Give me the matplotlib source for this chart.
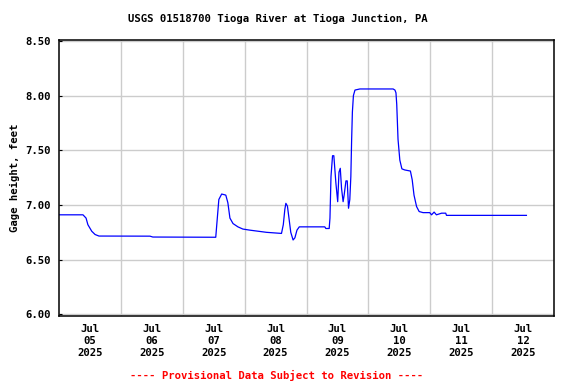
import matplotlib
matplotlib.use("Agg")
import matplotlib.pyplot as plt
import pandas as pd

# Gage height readings, hours after Jul 05 2025 00:00
hours = [0.0, 9.3, 10.5, 11.2, 12.7, 14.0, 15.5, 35.3, 36.4, 60.8,
         61.3, 62.0, 63.1, 64.7, 65.5, 66.3, 67.5, 69.4, 71.3, 74.0,
         80.5, 86.3, 87.0, 87.6, 88.0, 88.6, 89.2, 89.9, 90.8, 91.5,
         92.3, 93.2, 103.1, 103.5, 104.8, 105.1, 105.5, 106.1, 106.6, 107.4,
         108.1, 108.6, 109.1, 109.6, 110.2, 110.6, 111.3, 111.8, 112.3, 112.8,
         113.2, 113.5, 113.8, 114.2, 114.8, 116.7, 129.6, 130.3, 130.7, 131.0,
         131.5, 132.2, 133.0, 134.1, 136.3, 137.0, 137.7, 138.7, 139.7, 141.2,
         143.8, 144.5, 145.5, 146.4, 148.4, 150.0, 150.3, 181.3]
gage_ft = [6.91, 6.91, 6.88, 6.82, 6.76, 6.73, 6.716, 6.715, 6.707, 6.705,
           6.85, 7.05, 7.10, 7.09, 7.02, 6.88, 6.83, 6.80, 6.78, 6.77,
           6.75, 6.74, 6.82, 6.96, 7.015, 6.99, 6.88, 6.75, 6.68, 6.70,
           6.77, 6.80, 6.80, 6.785, 6.785, 6.88, 7.26, 7.45, 7.45, 7.20,
           7.03, 7.30, 7.335, 7.15, 7.03, 7.09, 7.22, 7.22, 6.97, 7.05,
           7.26, 7.59, 7.85, 8.00, 8.05, 8.06, 8.06, 8.05, 8.025, 7.92,
           7.60, 7.41, 7.33, 7.32, 7.31, 7.23, 7.09, 6.985, 6.94, 6.93,
           6.93, 6.91, 6.935, 6.91, 6.925, 6.925, 6.905, 6.905]

day_labels = ["Jul\n05\n2025", "Jul\n06\n2025", "Jul\n07\n2025", "Jul\n08\n2025",
              "Jul\n09\n2025", "Jul\n10\n2025", "Jul\n11\n2025", "Jul\n12\n2025"]
y_ticks = [6.0, 6.5, 7.0, 7.5, 8.0, 8.5]

start = pd.Timestamp("2025-07-05")
times = start + pd.to_timedelta(hours, unit="h")

font = "DejaVu Sans Mono"
fsize = 7.7

fig = plt.figure(figsize=(5.76, 3.84), dpi=100)
ax = fig.add_axes([59 / 576, 1 - 315.5 / 384, 495 / 576, 276 / 384])

ax.plot(times, gage_ft, color="#0000ff", linewidth=0.9)

# Gridlines at midnight, labels at noon
day_starts = pd.date_range(start, periods=9, freq="D")
noons = day_starts[:8] + pd.Timedelta(hours=12)
ax.set_xlim(day_starts[0], day_starts[-1])
ax.set_xticks(day_starts[1:-1])
ax.set_xticklabels([])
ax.set_xticks(noons, minor=True)
ax.set_xticklabels(day_labels, minor=True, fontfamily=font, fontweight="bold",
                   fontsize=fsize, linespacing=1.25)
ax.tick_params(axis="x", which="major", length=0)
ax.tick_params(axis="x", which="minor", length=0, pad=6)

ax.set_ylim(5.99, 8.512)
ax.set_yticks(y_ticks)
ax.set_yticklabels([f"{v:.2f}" for v in y_ticks], fontfamily=font,
                   fontweight="bold", fontsize=fsize)
ax.tick_params(axis="y", direction="in", length=2, pad=6)

ax.grid(True, which="major", color="#cccccc", linewidth=1)
ax.set_axisbelow(True)
for sp in ax.spines.values():
    sp.set_linewidth(1.1)

ax.set_ylabel("Gage height, feet", fontfamily=font, fontweight="bold",
              fontsize=fsize, labelpad=4)

fig.text(278 / 576, 1 - 19 / 384, "USGS 01518700 Tioga River at Tioga Junction, PA",
         ha="center", va="center", fontfamily=font, fontweight="bold",
         fontsize=fsize)
fig.text(277 / 576, 1 - 375 / 384, "---- Provisional Data Subject to Revision ----",
         ha="center", va="center", color="red", fontfamily=font,
         fontweight="bold", fontsize=fsize)

fig.savefig("out.png", dpi=100)
